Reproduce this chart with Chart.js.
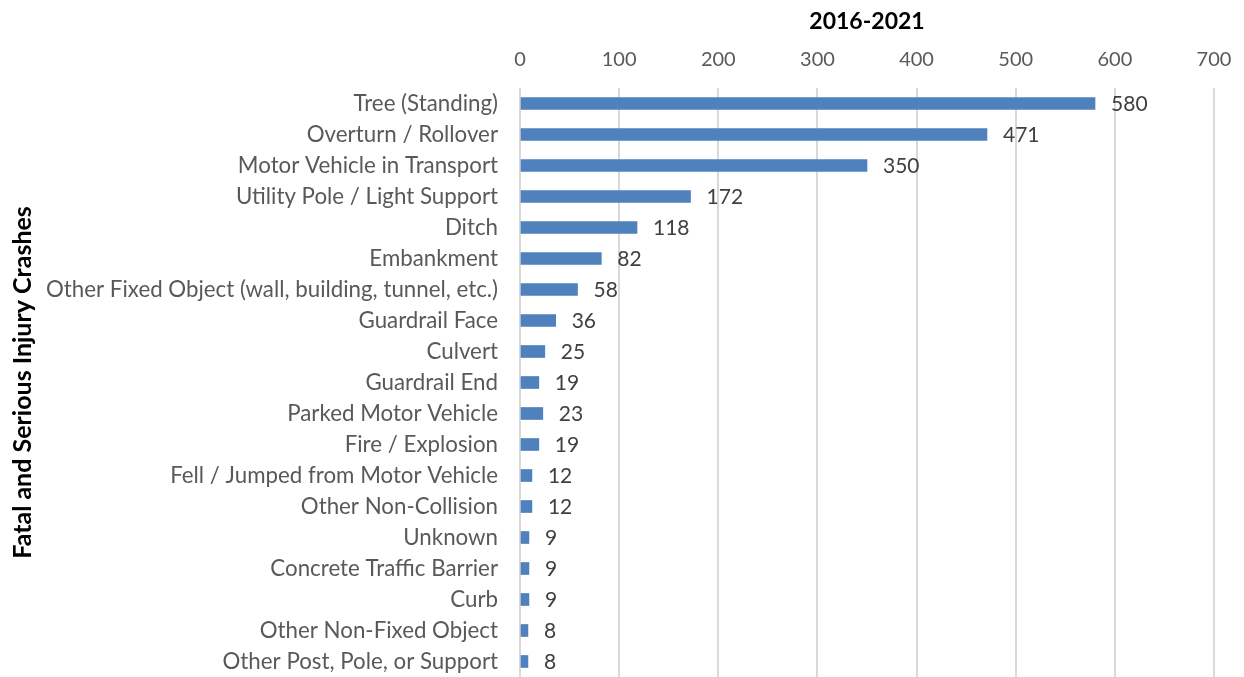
<!DOCTYPE html>
<html><head><meta charset="utf-8">
<script src="https://cdn.jsdelivr.net/npm/chart.js@4"></script>
<style>html,body{margin:0;padding:0;background:#fff}#wrap{width:1244px;height:677px}</style>
</head><body><div id="wrap"><canvas id="c"></canvas></div>
<script>
const categories = ["Tree (Standing)","Overturn / Rollover","Motor Vehicle in Transport","Utility Pole / Light Support","Ditch","Embankment","Other Fixed Object (wall, building, tunnel, etc.)","Guardrail Face","Culvert","Guardrail End","Parked Motor Vehicle","Fire / Explosion","Fell / Jumped from Motor Vehicle","Other Non-Collision","Unknown","Concrete Traffic Barrier","Curb","Other Non-Fixed Object","Other Post, Pole, or Support"];
const values = [580,471,350,172,118,82,58,36,25,19,23,19,12,12,9,9,9,8,8];
const xTitle = "2016-2021";
const yTitle = "Fatal and Serious Injury Crashes";
const FONT = "Lato, 'Open Sans', sans-serif";

const valueLabels = {
  id: 'valueLabels',
  afterDatasetsDraw(chart) {
    const ctx = chart.ctx;
    const meta = chart.getDatasetMeta(0);
    ctx.save();
    ctx.font = "21px " + FONT;
    ctx.fillStyle = "#404040";
    ctx.textAlign = "left";
    ctx.textBaseline = "middle";
    meta.data.forEach((bar, i) => {
      ctx.fillText(String(values[i]), bar.x + 16, bar.y + 1);
    });
    ctx.restore();
  }
};

new Chart(document.getElementById('c'), {
  type: 'bar',
  data: { labels: categories, datasets: [{ data: values, backgroundColor: '#4F81BD', barThickness: 12 }] },
  options: {
    indexAxis: 'y',
    responsive: true, maintainAspectRatio: false, animation: false,
    layout: { padding: { left: 0, right: 30, top: 0, bottom: 0 } },
    plugins: { legend: { display: false }, tooltip: { enabled: false } },
    scales: {
      x: {
        position: 'top', min: 0, max: 700,
        ticks: { stepSize: 100, color: '#595959', font: { size: 20, family: FONT }, padding: 16 },
        grid: { color: '#D9D9D9', lineWidth: 2, drawTicks: false },
        border: { display: false },
        title: { display: true, text: xTitle, color: '#000', font: { size: 23, weight: 'bold', family: FONT }, padding: { top: 8, bottom: 0 } },
        afterFit(s) { s.height = 88; s.paddingLeft = 0; s.paddingRight = 0; }
      },
      y: {
        ticks: { color: '#595959', font: { size: 22.3, family: FONT }, padding: 22, autoSkip: false },
        grid: { display: false, drawTicks: false },
        border: { display: false },
        title: { display: true, text: yTitle, color: '#000', font: { size: 25, weight: 'bold', family: FONT }, padding: { top: 8, bottom: 0 } },
        afterFit(s) { s.width = 520; s.paddingTop = 0; s.paddingBottom = 0; }
      }
    }
  },
  plugins: [valueLabels]
});
</script></body></html>
